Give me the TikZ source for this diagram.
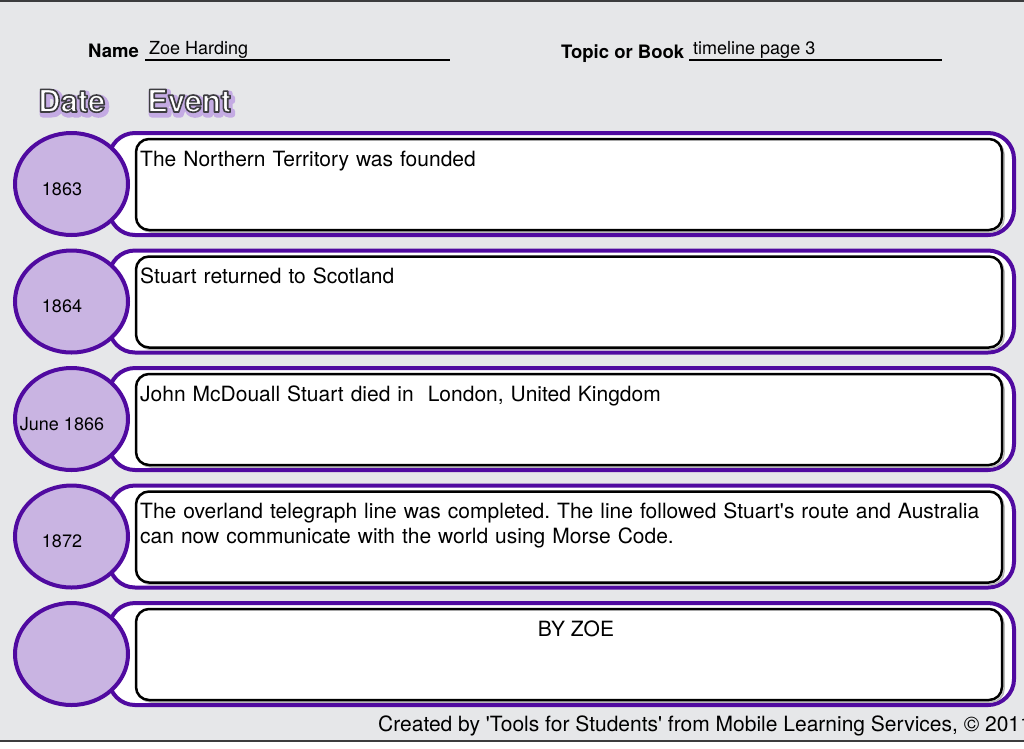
\documentclass[tikz,border=0pt]{standalone}
\usepackage{fontspec}
\setmainfont{TeX Gyre Heros}
\usetikzlibrary{shapes.geometric}
\definecolor{bg}{RGB}{230,231,233}
\definecolor{purp}{RGB}{80,10,160}
\definecolor{lilac}{RGB}{201,180,226}
\definecolor{edgegray}{RGB}{60,60,62}
\definecolor{glowcol}{RGB}{196,170,228}
\frenchspacing
\tikzset{
  outerbox/.style={draw=purp, line width=4pt, fill=white, rounded corners=26pt,
    minimum width=905pt, minimum height=102pt, inner sep=0pt, outer sep=0pt},
  innerbox/.style={draw=black, line width=2.5pt, fill=white, rounded corners=13pt,
    minimum width=866pt, minimum height=91pt, inner sep=0pt, outer sep=0pt},
  innershadow/.style={draw=gray!55, line width=1.5pt, rounded corners=13pt,
    minimum width=866pt, minimum height=91pt, inner sep=0pt, outer sep=0pt},
  datecirc/.style={ellipse, draw=purp, line width=4pt, fill=lilac,
    minimum width=113pt, minimum height=102pt, inner sep=0pt, outer sep=0pt},
  datelabel/.style={anchor=base, inner sep=0pt, font=\fontsize{18}{21}\selectfont},
  eventtext/.style={anchor=base west, inner sep=0pt, text width=875pt, align=left,
    font=\fontsize{21}{25}\selectfont},
  hdr/.style={anchor=base west, inner sep=0pt, font=\bfseries\fontsize{18.5}{22}\selectfont},
  hdrval/.style={anchor=base west, inner sep=0pt, font=\fontsize{18}{21}\selectfont},
  headbase/.style={anchor=base west, inner sep=0pt,
    font=\bfseries\fontsize{31}{36}\selectfont},
  uline/.style={line width=1.5pt, black}
}
\newcommand\headword[4]{% name, x, y, text
  \node[headbase] (#1) at (#2,#3)
    {\rlap{\hspace{2pt}\raisebox{-2.5pt}{\color{glowcol}\special{pdf:code 2 Tr 1 J 1 j 6 w 0.77 0.67 0.89 RG}#4\special{pdf:code 0 Tr}}}%
     {\color{white}\special{pdf:code 2 Tr 1 J 1 j 1.6 w 0.24 0.24 0.25 RG}#4\special{pdf:code 0 Tr}}};
}
\newcommand\tlrow[2]{% index, date
  \pgfmathsetmacro\T{131+117.5*(#1-1)}
  \node[outerbox] (outer#1) at (561.5,\T+53) {};
  \node[innershadow] (shadow#1) at (571,\T+55.5) {};
  \node[innerbox] (inner#1) at (569,\T+53.5) {};
  \node[datecirc] (date#1) at (71.5,\T+53) {};
  \node[datelabel] (dlabel#1) at (62,\T+64) {#2};
}
\begin{document}
\begin{tikzpicture}[x=1pt,y=-1pt]
\useasboundingbox (0,0) rectangle (1024,748);
\clip (0,0) rectangle (1024,748);
\fill[white] (0,0) rectangle (1024,748);
\fill[bg] (0,0) rectangle (1024,741);
\draw[line width=2pt, edgegray] (0,1) -- (1024,1);
\draw[line width=1.5pt, edgegray] (0,741) -- (1024,741);

% header
\node[hdr] (namelbl) at (88,57) {Name};
\coordinate (nameA) at (145,60);
\coordinate (nameB) at (450,60);
\draw[uline] (nameA) -- (nameB);
\node[hdrval] (nameval) at (149,54) {Zoe Harding};
\node[hdr] (topiclbl) at (561,58) {Topic or Book};
\coordinate (topicA) at (689,60);
\coordinate (topicB) at (942,60);
\draw[uline] (topicA) -- (topicB);
\node[hdrval] (topicval) at (693,54) {timeline page 3};

\headword{datehead}{38}{112}{Date}
\headword{eventhead}{147}{112}{Event}

% rows
\tlrow{1}{1863}
\node[eventtext] (ev1) at (140,166) {The Northern Territory was founded};
\tlrow{2}{1864}
\node[eventtext] (ev2) at (140,283.5) {Stuart returned to Scotland};
\tlrow{3}{June 1866}
\node[eventtext] (ev3) at (140,401) {John McDouall Stuart died in~ London, United Kingdom};
\tlrow{4}{1872}
\node[eventtext] (ev4) at (140,518.5) {The overland telegraph line was completed. The line followed Stuart\textquotesingle s route and Australia\\can now communicate with the world using Morse Code.};
\tlrow{5}{}
\node[anchor=base, inner sep=0pt, font=\fontsize{21}{25}\selectfont] (ev5) at (576,636) {BY ZOE};

% footer
\node[anchor=base west, inner sep=0pt, font=\fontsize{21}{24}\selectfont] (footer) at (378,731)
  {Created by \textquotesingle Tools for Students\textquotesingle\ from Mobile Learning Services, © 2011};
\end{tikzpicture}
\end{document}
